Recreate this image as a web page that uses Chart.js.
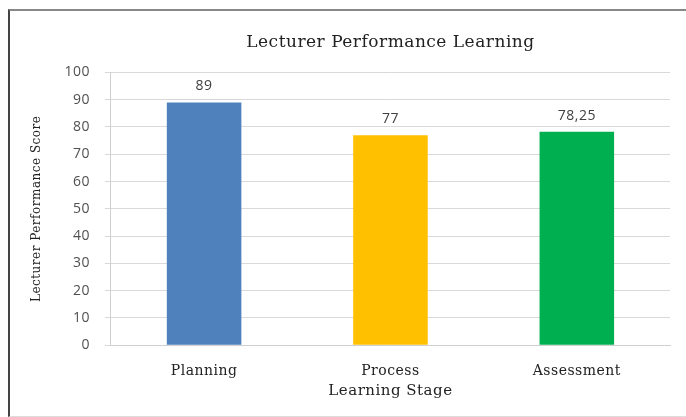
<!DOCTYPE html>
<html><head><meta charset="utf-8">
<script src="https://cdn.jsdelivr.net/npm/chart.js@4"></script>
<style>
html,body{margin:0;padding:0;background:#fff;}
#wrap{position:relative;width:686px;height:417px;overflow:hidden;}
#frame{position:absolute;left:8px;top:9px;width:700px;height:405px;border-left:2px solid #444;border-top:2px solid #888;border-bottom:1px solid #ddd;}
canvas{position:absolute;left:0;top:0;}
</style></head>
<body><div id="wrap"><div id="frame"></div><canvas id="c" width="686" height="417"></canvas></div>
<script>
const categories = ["Planning", "Process", "Assessment"];
const scores = [89, 77, 78.25];
const valueLabels = ["89", "77", "78,25"];
const barColors = ["#4F81BD", "#FFC000", "#00B050"];
const yTicks = [0,10,20,30,40,50,60,70,80,90,100];

const SP = '0.5px';
const spacingPlugin = {
  id: 'spacing',
  beforeUpdate(chart) { chart.ctx.letterSpacing = SP; },
  beforeDraw(chart) { chart.ctx.letterSpacing = SP; }
};

const labelPlugin = {
  id: 'vals',
  afterDatasetsDraw(chart) {
    const ctx = chart.ctx;
    const meta = chart.getDatasetMeta(0);
    ctx.save();
    ctx.letterSpacing = SP;
    ctx.fillStyle = '#404040';
    ctx.font = '14px "Open Sans", sans-serif';
    ctx.textAlign = 'center';
    ctx.textBaseline = 'bottom';
    meta.data.forEach((bar, i) => {
      ctx.fillText(valueLabels[i], bar.x, bar.y - 9);
    });
    ctx.restore();
  }
};

new Chart(document.getElementById('c'), {
  type: 'bar',
  data: {
    labels: categories,
    datasets: [{
      data: scores,
      backgroundColor: barColors,
      categoryPercentage: 1,
      barPercentage: 0.4
    }]
  },
  options: {
    responsive: false,
    animation: false,
    layout: { padding: { left: 25, right: 16, top: 10, bottom: 17 } },
    plugins: {
      legend: { display: false },
      tooltip: { enabled: false },
      title: {
        display: true,
        fullSize: false,
        text: 'Lecturer Performance Learning',
        color: '#222',
        font: { family: '"DejaVu Serif", serif', size: 17, weight: 'normal' },
        padding: { top: 22, bottom: 20 }
      }
    },
    scales: {
      x: {
        grid: { display: false },
        border: { color: '#cfcfcf' },
        ticks: { color: '#222', font: { family: '"DejaVu Serif", serif', size: 14 }, padding: 10 },
        title: { display: true, text: 'Learning Stage', color: '#222', font: { family: '"DejaVu Serif", serif', size: 15 }, padding: { top: -8, bottom: 0 } }
      },
      y: {
        min: 0, max: 100,
        afterBuildTicks(axis) { axis.ticks = yTicks.map(v => ({ value: v })); },
        grid: { color: '#d9d9d9', tickLength: 6 },
        border: { color: '#cfcfcf' },
        ticks: { color: '#505050', font: { family: '"Open Sans", sans-serif', size: 14 }, padding: 15 },
        title: { display: true, text: 'Lecturer Performance Score', color: '#222', font: { family: '"DejaVu Serif", serif', size: 12 }, padding: 5 }
      }
    }
  },
  plugins: [spacingPlugin, labelPlugin]
});
</script></body></html>
